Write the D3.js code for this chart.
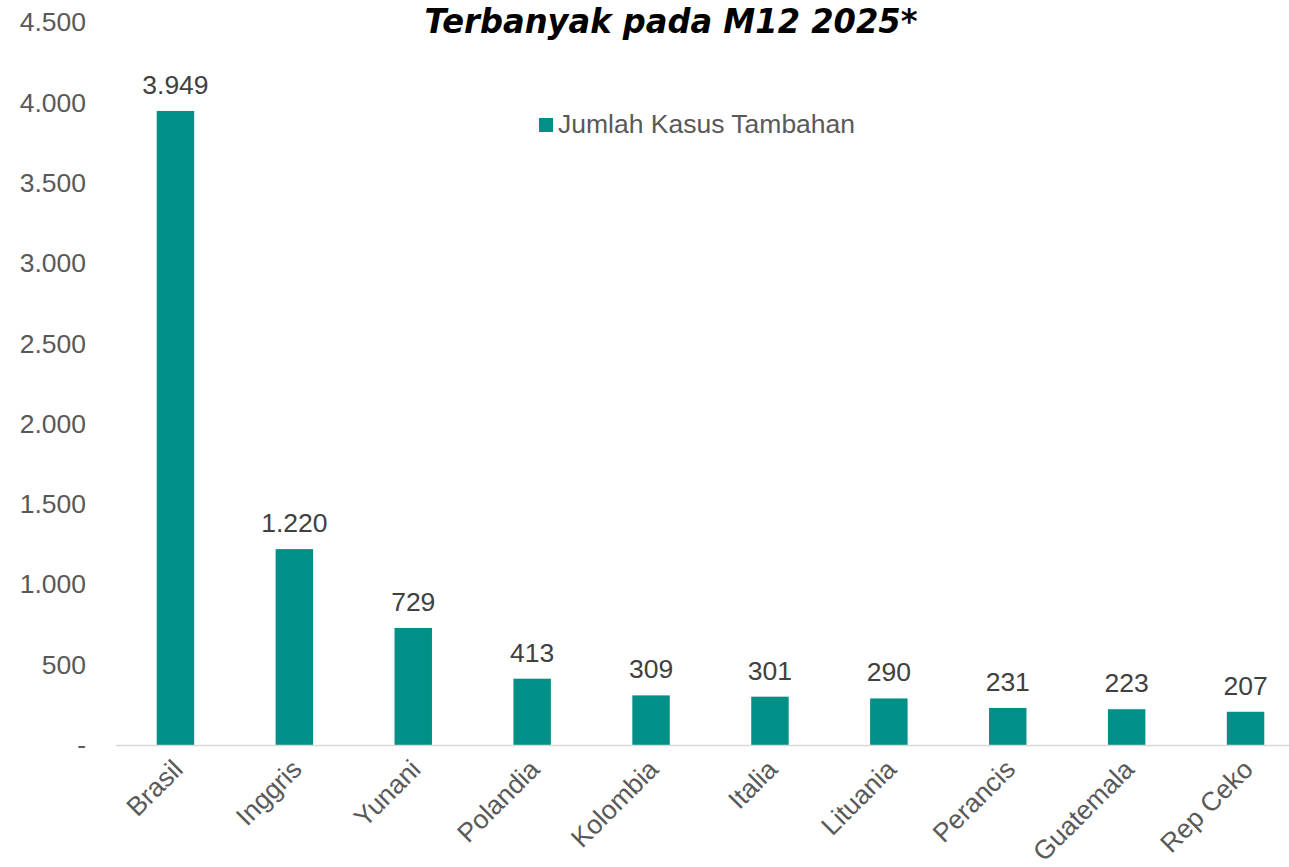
<!DOCTYPE html>
<html>
<head>
<meta charset="utf-8">
<script src="https://cdn.jsdelivr.net/npm/d3@7"></script>
<style>
  body { margin: 0; background: #fff; }
  svg text { font-family: "Liberation Sans", Arial, sans-serif; }
</style>
</head>
<body>
<div id="chart"></div>
<script>
// datos del grafico
const negara = ["Brasil", "Inggris", "Yunani", "Polandia", "Kolombia", "Italia", "Lituania", "Perancis", "Guatemala", "Rep Ceko"];
const kasus = [3949, 1220, 729, 413, 309, 301, 290, 231, 223, 207];
const yTicks = [0, 500, 1000, 1500, 2000, 2500, 3000, 3500, 4000, 4500];
const judul = "Terbanyak pada M12 2025*";
const legenda = "Jumlah Kasus Tambahan";

const W = 1289, H = 867;
const warna = "#009087";
const fs = "26.5px";
const fmt = (v) => v === 0 ? "-" : d3.format(",")(v).replace(/,/g, ".");

const svg = d3.select("#chart").append("svg")
  .attr("width", W)
  .attr("height", H);

// escaladores
const x = d3.scaleBand()
  .domain(negara)
  .range([116, 1305])
  .paddingInner(0.685)
  .paddingOuter(0.3425);

const y = d3.scaleLinear()
  .domain([0, 4500])
  .range([745, 22.5]);

// eje y (solo etiquetas)
const yAxis = svg.append("g")
  .attr("transform", "translate(86,0)")
  .call(d3.axisLeft(y).tickValues(yTicks).tickSize(0).tickPadding(0).tickFormat(fmt));
yAxis.select(".domain").remove();
yAxis.selectAll("text")
  .attr("fill", "#595959")
  .style("font-size", fs)
  .style("font-family", "Liberation Sans, Arial, sans-serif");

// barras
svg.selectAll("rect.bar")
  .data(negara)
  .enter()
  .append("rect")
  .attr("class", "bar")
  .attr("x", (d) => x(d))
  .attr("width", x.bandwidth())
  .attr("y", (d, i) => y(kasus[i]))
  .attr("height", (d, i) => y(0) - y(kasus[i]))
  .attr("fill", warna);

// etiquetas de valor
svg.selectAll("text.val")
  .data(negara)
  .enter()
  .append("text")
  .attr("class", "val")
  .attr("x", (d) => x(d) + x.bandwidth() / 2)
  .attr("y", (d, i) => y(kasus[i]) - 17)
  .attr("text-anchor", "middle")
  .attr("fill", "#404040")
  .style("font-size", fs)
  .text((d, i) => fmt(kasus[i]));

// eje x
const xAxis = svg.append("g")
  .attr("transform", `translate(0,${y(0)})`)
  .call(d3.axisBottom(x).tickSize(0).tickSizeOuter(0));
xAxis.select(".domain")
  .attr("stroke", "#d9d9d9")
  .attr("stroke-width", 1.5)
  .attr("d", `M116,0.5H${W}`);
xAxis.selectAll("text")
  .attr("fill", "#595959")
  .style("font-size", fs)
  .style("font-family", "Liberation Sans, Arial, sans-serif")
  .attr("text-anchor", "end")
  .attr("dy", null)
  .attr("y", 0)
  .attr("transform", "translate(9,26) rotate(-45)");

// titulo
svg.append("text")
  .attr("x", 671)
  .attr("y", 33)
  .attr("text-anchor", "middle")
  .attr("fill", "#000")
  .style("font-family", "'DejaVu Sans', sans-serif")
  .style("font-weight", "bold")
  .style("font-style", "italic")
  .style("font-size", "33px")
  .attr("textLength", 493)
  .attr("lengthAdjust", "spacingAndGlyphs")
  .text(judul);

// leyenda
svg.append("rect")
  .attr("x", 539)
  .attr("y", 118)
  .attr("width", 14)
  .attr("height", 14)
  .attr("fill", warna);
svg.append("text")
  .attr("x", 558)
  .attr("y", 133)
  .attr("fill", "#595959")
  .style("font-size", fs)
  .text(legenda);
</script>
</body>
</html>
